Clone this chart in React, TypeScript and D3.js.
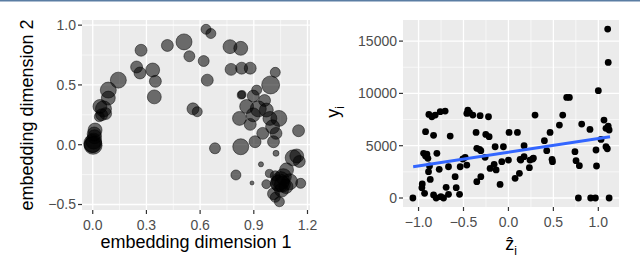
import { useEffect, useRef } from 'react'
import * as d3 from 'd3'

// left panel: embedding coordinates and bubble weight
const embedX = [
  0.633, 0.66, 0.417, 0.51, 0.54, 0.27, 0.245, 0.264, 0.335, 0.35, 0.344, 0.143, 0.087, 0.087, 0.04,
  0.06, 0.037, 0.072, 0.013, 0.01, 0.0, 0.002, 0.005, -0.002, 0.008, 0.62, 0.64, 0.56, 0.584, 0.683,
  0.767, 0.827, 0.773, 0.832, 0.88, 1.02, 0.994, 0.834, 0.897, 0.916, 0.86, 0.925, 0.96, 0.97, 0.82,
  0.88, 0.897, 0.99, 1.04, 1.005, 0.95, 1.024, 0.907, 1.01, 0.827, 1.024, 1.15, 1.14, 1.12, 1.154,
  0.94, 0.8, 0.89, 0.987, 0.97, 1.037, 1.065, 1.083, 1.1, 1.01, 1.043, 1.02, 1.162, 1.05, 1.045,
  1.02, 1.055, 1.06, 0.83, 0.05, 1.08,
]
const embedY = [
  0.965, 0.93, 0.83, 0.86, 0.74, 0.79, 0.65, 0.6, 0.625, 0.53, 0.4, 0.54, 0.457, 0.39, 0.32,
  0.3, 0.234, 0.26, 0.123, 0.067, 0.01, -0.005, 0.03, 0.0, 0.09, 0.7, 0.54, 0.3, 0.276, -0.03,
  0.82, 0.806, 0.63, 0.64, 0.64, 0.605, 0.5, 0.42, 0.407, 0.457, 0.32, 0.3, 0.37, 0.29, 0.22,
  0.17, 0.25, 0.22, 0.22, 0.15, 0.095, 0.095, 0.025, 0.025, -0.017, -0.072, 0.117, -0.094, -0.11, -0.14,
  -0.164, -0.253, -0.32, -0.24, -0.33, -0.323, -0.267, -0.21, -0.31, -0.41, -0.477, -0.44, -0.323, -0.3, -0.32,
  -0.26, -0.38, -0.33, 0.415, 0.25, -0.35,
]
const embedSize = [
  31, 31, 44, 79, 37, 44, 44, 44, 60, 44, 60, 79, 79, 60, 60,
  79, 31, 44, 60, 60, 100, 100, 79, 79, 60, 37, 44, 44, 31, 37,
  60, 60, 44, 44, 44, 31, 100, 20, 44, 31, 60, 79, 44, 60, 60,
  44, 60, 60, 79, 60, 44, 44, 44, 44, 79, 11, 44, 60, 79, 44,
  8, 31, 5, 20, 25, 79, 79, 60, 79, 44, 31, 31, 31, 100, 100,
  31, 60, 79, 20, 44, 60,
]

// right panel: z-hat vs y
const zHat = [
  1.104, 1.11, 1.0, 0.648, 0.678, 0.296, 0.604, 0.567, 0.815, 0.907, 1.063, 1.085, 1.11, 1.12, 0.463,
  0.4, 0.426, 0.485, 0.49, 0.74, 0.752, 0.789, 1.03, 0.974, 1.085, 1.1, 0.98, 0.778, 0.915, 0.967,
  1.12, 0.174, 0.137, 0.24, 0.278, 0.233, 0.122, 0.074, 0.007, 0.1, 0.0, -0.074, -0.056, -0.093, -0.148,
  -0.159, -0.137, -0.204, -0.252, -0.215, -0.222, -0.315, -0.322, -0.352, -0.307, -0.26, -0.307, -0.352, -0.36, -0.452,
  -0.463, -0.433, -0.396, -0.481, -0.463, -0.537, -0.507, -0.593, -0.581, -0.544, -0.648, -0.704, -0.759, -0.815, -0.833,
  -0.804, -0.752, -0.722, -0.667, -0.693, -0.667, -0.77, -0.796, -0.833, -0.885, -0.852, -0.922, -0.944, -0.922, -0.907,
  -0.896, -0.878, -0.889, -0.87, -0.959, -0.963, -0.933, -1.063, 0.27, 0.174, 0.13,
]
const yVals = [
  16150, 12960, 10260, 9620, 9620, 7930, 7930, 6975, 7070, 6560, 7450, 6660, 6880, 6500, 6270,
  5480, 4520, 3700, 3470, 4430, 3570, 3090, 5600, 4590, 4900, 4710, 3060, 0, 0, 0,
  0, 5000, 3630, 3630, 3820, 2900, 2360, 1880, 6270, 6270, 3630, 3470, 4900, 1300, 4900,
  3220, 2680, 2830, 6080, 5860, 7770, 7870, 4650, 4750, 4520, 3890, 2040, 1560, 6270, 8410,
  8090, 8150, 7930, 3890, 3150, 2990, 3730, 2040, 990, 350, 5920, 8310, 8250, 7930, 290,
  0, 130, 0, 350, 1020, 2990, 2740, 4270, 5990, 7990, 7770, 6340, 4270, 4010, 4200,
  3790, 3060, 2520, 1780, 1340, 990, 450, 0, 3730, 3950, 3700,
]
// fitted line (as drawn)
const fitX = [-1.06, 1.13]
const fitY = [2990, 5860]

const leftXTicks = [0.0, 0.3, 0.6, 0.9, 1.2]
const leftXMinor = [0.15, 0.45, 0.75, 1.05]
const leftYTicks = [-0.5, 0.0, 0.5, 1.0]
const leftYMinor = [-0.25, 0.25, 0.75]
const rightXTicks = [-1.0, -0.5, 0.0, 0.5, 1.0]
const rightXMinor = [-0.75, -0.25, 0.25, 0.75]
const rightYTicks = [0, 5000, 10000, 15000]
const rightYMinor = [2500, 7500, 12500]

const W = 640
const H = 257
const FONT = '"Liberation Sans", Arial, sans-serif'

export default function App() {
  const svgRef = useRef<SVGSVGElement | null>(null)

  useEffect(() => {
    if (!svgRef.current) return
    const svg = d3.select(svgRef.current)
    svg.selectAll('*').remove()

    svg.append('rect').attr('width', W).attr('height', H).attr('fill', '#ffffff')
    svg.append('rect').attr('x', 0).attr('y', 0).attr('width', W).attr('height', 1.5).attr('fill', '#5a7da3')

    function panel(
      left: number, right: number, top: number, bottom: number,
      xDom: [number, number], yDom: [number, number],
      xTicks: number[], xMinor: number[], yTicks: number[], yMinor: number[],
      xFmt: (v: number) => string, yFmt: (v: number) => string,
    ) {
      const x = d3.scaleLinear().domain(xDom).range([left, right])
      const y = d3.scaleLinear().domain(yDom).range([bottom, top])
      const g = svg.append('g')
      g.append('rect').attr('x', left).attr('y', top).attr('width', right - left).attr('height', bottom - top).attr('fill', '#ebebeb')
      g.selectAll('line.minx').data(xMinor).enter().append('line')
        .attr('x1', (d: number) => x(d)).attr('x2', (d: number) => x(d)).attr('y1', top).attr('y2', bottom)
        .attr('stroke', '#ffffff').attr('stroke-width', 0.6)
      g.selectAll('line.miny').data(yMinor).enter().append('line')
        .attr('y1', (d: number) => y(d)).attr('y2', (d: number) => y(d)).attr('x1', left).attr('x2', right)
        .attr('stroke', '#ffffff').attr('stroke-width', 0.6)
      g.selectAll('line.majx').data(xTicks).enter().append('line')
        .attr('x1', (d: number) => x(d)).attr('x2', (d: number) => x(d)).attr('y1', top).attr('y2', bottom)
        .attr('stroke', '#ffffff').attr('stroke-width', 1.3)
      g.selectAll('line.majy').data(yTicks).enter().append('line')
        .attr('y1', (d: number) => y(d)).attr('y2', (d: number) => y(d)).attr('x1', left).attr('x2', right)
        .attr('stroke', '#ffffff').attr('stroke-width', 1.3)
      // ticks
      g.selectAll('line.tx').data(xTicks).enter().append('line')
        .attr('x1', (d: number) => x(d)).attr('x2', (d: number) => x(d)).attr('y1', bottom).attr('y2', bottom + 4)
        .attr('stroke', '#333333').attr('stroke-width', 1.2)
      g.selectAll('line.ty').data(yTicks).enter().append('line')
        .attr('y1', (d: number) => y(d)).attr('y2', (d: number) => y(d)).attr('x1', left - 4).attr('x2', left)
        .attr('stroke', '#333333').attr('stroke-width', 1.2)
      g.selectAll('text.tx').data(xTicks).enter().append('text')
        .attr('x', (d: number) => x(d)).attr('y', bottom + 20)
        .attr('text-anchor', 'middle').attr('font-size', 14).attr('font-family', FONT).attr('fill', '#4d4d4d')
        .text((d: number) => xFmt(d))
      g.selectAll('text.ty').data(yTicks).enter().append('text')
        .attr('x', left - 6).attr('y', (d: number) => y(d) + 5)
        .attr('text-anchor', 'end').attr('font-size', 14).attr('font-family', FONT).attr('fill', '#4d4d4d')
        .text((d: number) => yFmt(d))
      return { x, y, g }
    }

    // left panel
    const L = panel(82, 310, 20, 210, [-0.06, 1.214], [-0.546, 1.043],
      leftXTicks, leftXMinor, leftYTicks, leftYMinor, d3.format('.1f'), d3.format('.1f'))
    const r = d3.scaleSqrt().domain([0, 100]).range([0, 9])
    const bubbles = embedX.map((v, i) => ({ x: v, y: embedY[i], s: embedSize[i] }))
    L.g.selectAll('circle.b').data(bubbles).enter().append('circle')
      .attr('cx', (d: any) => L.x(d.x)).attr('cy', (d: any) => L.y(d.y)).attr('r', (d: any) => r(d.s))
      .attr('fill', '#000000').attr('fill-opacity', 0.55)
      .attr('stroke', '#000000').attr('stroke-opacity', 0.6).attr('stroke-width', 0.8)

    svg.append('text').attr('x', 196).attr('y', 248).attr('text-anchor', 'middle')
      .attr('font-size', 18).attr('font-family', FONT).attr('fill', '#000')
      .text('embedding dimension 1')
    svg.append('text').attr('transform', 'translate(33,115) rotate(-90)').attr('text-anchor', 'middle')
      .attr('font-size', 18).attr('font-family', FONT).attr('fill', '#000')
      .text('embedding dimension 2')

    // right panel
    const R = panel(403, 619, 20, 207, [-1.173, 1.23], [-860, 17017],
      rightXTicks, rightXMinor, rightYTicks, rightYMinor, d3.format('.1f'), d3.format('d'))
    const pts = zHat.map((v, i) => ({ x: v, y: yVals[i] }))
    R.g.selectAll('circle.p').data(pts).enter().append('circle')
      .attr('cx', (d: any) => R.x(d.x)).attr('cy', (d: any) => R.y(d.y)).attr('r', 3.4)
      .attr('fill', '#000000')
    const fit = fitX.map((v, i) => [v, fitY[i]] as [number, number])
    R.g.append('path')
      .attr('d', d3.line<[number, number]>().x((d) => R.x(d[0])).y((d) => R.y(d[1]))(fit) ?? '')
      .attr('stroke', '#3366ff').attr('stroke-width', 3).attr('fill', 'none')

    // x title: z hat with subscript i
    const xt = svg.append('text').attr('x', 511).attr('y', 250).attr('text-anchor', 'middle')
      .attr('font-size', 18).attr('font-family', FONT).attr('fill', '#000')
    xt.append('tspan').text('ẑ')
    xt.append('tspan').attr('font-size', 12).attr('dy', 5).text('i')

    const yt = svg.append('text').attr('transform', 'translate(339,112) rotate(-90)').attr('text-anchor', 'middle')
      .attr('font-size', 18).attr('font-family', FONT).attr('fill', '#000')
    yt.append('tspan').text('y')
    yt.append('tspan').attr('font-size', 12).attr('dy', 5).text('i')
  }, [])

  return (
    <svg
      ref={svgRef}
      width={W}
      height={H}
      style={{ position: 'absolute', left: 0, top: 0 }}
      role="img"
      aria-label="Embedding bubble scatter and z-hat vs y scatter with fitted line"
    />
  )
}
